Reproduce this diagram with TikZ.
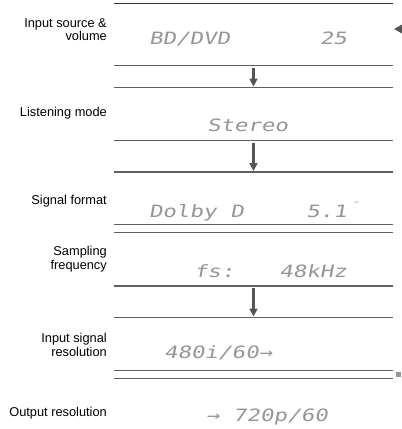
\documentclass[tikz,border=0pt]{standalone}
\usepackage{fontspec}
\setmainfont{Liberation Sans}
\newfontfamily\lcdfamily[FakeSlant=0.14]{DejaVu Sans Mono}
\usetikzlibrary{arrows.meta, positioning}

\definecolor{rulegray}{RGB}{95,95,95}
\definecolor{arrowgray}{RGB}{85,85,85}
\definecolor{lcdgray}{RGB}{150,150,150}
\newcommand{\lcd}[1]{\scalebox{1.32}[1]{\lcdfamily #1}}

\begin{document}
\begin{tikzpicture}[x=1pt, y=-1pt, >=latex]

        % Define block styles
        \tikzstyle{label} = [anchor=base east, inner sep=0pt, align=right, font=\fontsize{12.8}{13.5}\selectfont]
        \tikzstyle{lcdtext} = [anchor=base west, inner sep=0pt, text=lcdgray, font=\fontsize{17}{17}\selectfont]
        \tikzstyle{lcdright} = [lcdtext, anchor=base east]
        \tikzstyle{rule} = [draw=rulegray, line width=1.1pt]
        \tikzstyle{arrow} = [draw=arrowgray, line width=3pt, -{Triangle[width=8pt, length=8pt]}]

        \useasboundingbox (0,0) rectangle (402,429);

        % Rules
        \draw [rule, draw=black!80] (114,3.3) -- (393,3.3);
        \foreach \y in {65.7, 87.7, 140.7, 172, 224.3, 232.7, 286, 317.7, 370.3, 378.7}
          \draw [rule] (114,\y) -- (393,\y);

        % Labels (base is the last line)
        \node (source) [label] at (107,40.5) {Input source \&\\volume};
        \node (mode) [label] at (107,116.5) {Listening mode};
        \node (format) [label] at (107,204) {Signal format};
        \node (sampling) [label] at (107,269) {Sampling\\frequency};
        \node (inres) [label] at (107,356) {Input signal\\resolution};
        \node (outres) [label] at (107,416) {Output resolution};

        % Display
        \node (input) [lcdtext] at (149,44) {\lcd{BD/DVD}};
        \node (volume) [lcdright] at (347,44) {\lcd{25}};
        \node (stereo) [lcdtext] at (207,131) {\lcd{Stereo}};
        \node (dolby) [lcdtext] at (149,217) {\lcd{Dolby D}};
        \node (channels) [lcdright] at (347,217) {\lcd{5.1}};
        \node (mark) [lcdtext, font=\fontsize{9}{9}\selectfont] at (352,208) {\lcd{″}};
        \node (fs) [lcdtext] at (194,277) {\lcd{fs:}};
        \node (rate) [lcdright] at (347,277) {\lcd{48kHz}};
        \node (insignal) [lcdtext] at (164,358) {\lcd{480i/60→}};
        \node (outsignal) [lcdtext] at (206,421) {\lcd{→ 720p/60}};

        % Arrows
        \coordinate (a1top) at (253.5,67.5);
        \coordinate (a1bot) at (253.5,86.5);
        \coordinate (a2top) at (253.5,142.5);
        \coordinate (a2bot) at (253.5,171);
        \coordinate (a3top) at (253.5,288);
        \coordinate (a3bot) at (253.5,316.5);
        \draw [arrow] (a1top) -- (a1bot);
        \draw [arrow] (a2top) -- (a2bot);
        \draw [arrow] (a3top) -- (a3bot);

        % Markers
        \fill [arrowgray] (394,29) -- (402,24.5) -- (402,33.5) -- cycle;
        \fill [lcdgray] (396,372) rectangle (401,377);

      \end{tikzpicture}
\end{document}
